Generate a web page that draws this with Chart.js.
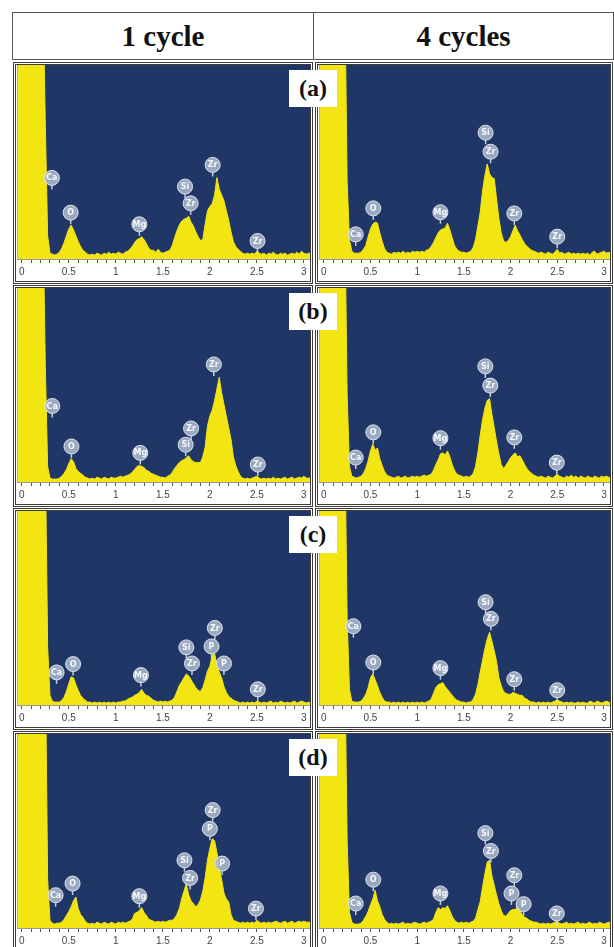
<!DOCTYPE html>
<html>
<head>
<meta charset="utf-8">
<script src="https://cdn.jsdelivr.net/npm/chart.js@4.4.1/dist/chart.umd.min.js"></script>
<style>
  html, body { margin: 0; padding: 0; background: #fff; }
  body { width: 614px; height: 947px; position: relative; overflow: hidden; }
  .head { position: absolute; top: 12px; height: 48px; box-sizing: border-box;
          border: 1px solid #555; display: flex; align-items: center; justify-content: center;
          font: bold 29px "Liberation Serif", "Times New Roman", serif; color: #111; }
  .frame { position: absolute; box-sizing: border-box; border: 3px double #3c3c3c; }
  canvas { position: absolute; }
  .tag { position: absolute; width: 48px; height: 37px; background: #fff;
         display: flex; align-items: center; justify-content: center;
         font: bold 24px "Liberation Serif", "Times New Roman", serif; color: #111; }
</style>
</head>
<body>
<div class="head" style="left:12px; width:302px;">1 cycle</div>
<div class="head" style="left:313px; width:301px;">4 cycles</div>

<script>
// energy axis (keV), one point every 0.025
const energy = Array.from({ length: 126 }, (_, i) => Math.round((-0.05 + i * 0.025) * 1000) / 1000);

// counts, 0 = baseline, 100 = top of the plot
const a1 = [
  140,140,140,140,140,140,140,140,140,140,140,140,70,12,3,2.5,2,2.5,3.5,5.5,8.5,12,
  15.5,17.5,15,12,9,6.5,4.5,3.5,2.5,2,2.5,2,3,2.5,2,3,2.5,3.5,2.5,3,
  2.5,3.5,3,2.5,3.5,4,5,6.5,8.5,10,10.5,11.5,10,8,5.5,4.5,4.5,3.5,5,3.5,
  3,3.5,4,4.5,7,11,14.5,17.5,19.5,20.5,21,22,19,17,14,11.5,9.5,10,18,25,
  27,28.5,33,42,36,33,30,25,20,14,9,6.5,5,4,3,2.5,3,2.5,3,2.5,
  4,3,2.5,3,2,3,2.5,3.5,2.5,2,3,2.5,3,2,2.5,3,2.5,3.5,2.5,4,
  3,2.5,3,3
];
const a4 = [
  140,140,140,140,140,140,140,140,140,140,140,140,40,10,4,3,3,3,3.5,5,7,11.5,
  15.5,18,19,18.5,13.5,9,5.5,3.5,3,2.5,3.5,3,3.5,3,4,3,3.5,3,4,3.5,
  4,3.5,4,3.5,4.5,5,6.5,8.5,11,13.5,15,15.5,16,18.5,15,11,7,5,4,3.5,
  3.5,3,3.5,4,6,10,17,24,35,43,49,44,42,41.5,31,21,13.5,9.5,8.5,9.5,
  11.5,14.5,17.5,14.5,12.5,10,8,6.5,5.5,4.5,4,3.5,3,3.5,3,2.5,3.5,3,2.5,3.5,
  5,3,3.5,2.5,3,3.5,2.5,3,2.5,3,2.5,3,2.5,3,2,3.5,4,2.5,3,3.5,
  4,3,3.5,3
];
const b1 = [
  140,140,140,140,140,140,140,140,140,140,140,140,60,8,2,1.5,1.5,1.5,2,3,4.5,6.5,
  9.5,12,10.5,7,5.5,4.5,3.5,2.5,2,1.5,2,1.5,2.5,2,1.5,2.5,2,1.5,2.5,2,
  2,2.5,3,2.5,3,3.5,4,5,6.5,8,8.5,8,7.5,6,5.5,4.5,4,3.5,3,2.5,
  2.5,2,3,3.5,5,7,8.5,10,11,11.5,12.5,13.5,11.5,10.5,10,10,10,13,18,29,
  34,37,42,48,54,46,40,34,28,22,13,8.5,5.5,3,2,1.5,2,1.5,2,2.5,
  3,2,1.5,2,1.5,2,1.5,2.5,1.5,2,1.5,2,2.5,1.5,2,2.5,1.5,2,2.5,2,
  3,2,2,2
];
const b4 = [
  140,140,140,140,140,140,140,140,140,140,140,140,45,8,3,2.5,2,2.5,3,4.5,7,11,
  16,19.5,16.5,17.5,12,8.5,5.5,3.5,3,2.5,2,2.5,3,2,2.5,3,2,2.5,3,2.5,
  3,2.5,3,3.5,3,3.5,4,6,9,11.5,14.5,15,14,16,13,9,6,4,3.5,3,
  2.5,3,2.5,3,4.5,8,15,24,32,38,42,43,35,28,21,14.5,9,7,8.5,10.5,
  12.5,14,15,13,13.5,11.5,9,7,5.5,4.5,3.5,3,2.5,3,2.5,2,3,2.5,2,3,
  4,3,2.5,2,3,2.5,3.5,2.5,3,2,3,2.5,2,3,2.5,2,3,2.5,2,3,
  2.5,3,2.5,2
];
const c1 = [
  140,140,140,140,140,140,140,140,140,140,140,140,130,30,5,2,1.5,1.5,1.5,2.5,4,7,
  11,14.5,14,10.5,7.5,5,3.5,2.5,1.5,1.5,1,1.5,1,1.5,1,1.5,1,1.5,1,1.5,
  1,1.5,1.5,2,2,3,3.5,4,5,5.5,6.5,8,6,5,4.5,3.5,2.5,2,1.5,2,
  1.5,2,1.5,2,2.5,4,7,10,12,14,16,15,13,11,9,7.5,7,9,13,17.5,
  20,25.5,26.5,21,17,14,9.5,6.5,4.5,3.5,2.5,2,1.5,1,1.5,1,1.5,1,1.5,1,
  2,1.5,1,1.5,1,1.5,2,1,1.5,1,2,1.5,1,1.5,1,1.5,2,1,1.5,2,
  1.5,1,1.5,1
];
const c4 = [
  140,140,140,140,140,140,140,140,140,140,140,140,45,8,2,1.5,1.5,1.5,2,3.5,5.5,9,
  14,16,13,10,6.5,4,2,1.5,1.5,1,1.5,1,1.5,1,1.5,1,1.5,1,1.5,1,
  1.5,1,1.5,1,1.5,2,3,6,9,10.5,11,11.5,9.5,8,6.5,5,3.5,2.5,2,1.5,
  1.5,1,1.5,1.5,3,5.5,10.5,17,23,29,34,37.5,33,28,22.5,14,10,7,6,5.5,
  5.5,6.5,6,5.5,5,5,3.5,3,2,1.5,1.5,1,1.5,1,1.5,1,1.5,1,1.5,2,
  2.5,2,1.5,1,1.5,1,1.5,1,1,1.5,1,1.5,1,1,2,1.5,1,2,1.5,1,
  1.5,2,1.5,1
];
const d1 = [
  140,140,140,140,140,140,140,140,140,140,140,140,140,25,4,2.5,2,2.5,2.5,3,4.5,6.5,
  8.5,11,14,16,10,7,5.5,3.5,2.5,2,2.5,2,3,2.5,2,3,2.5,2,3,2.5,
  2,3,2.5,3,2.5,3,3.5,4.5,7.5,8,9,10.5,8,6.5,4.5,4,3.5,3,3.5,3,
  3.5,3,3.5,4,4,5,7,10,15,19,23,17,14,12.5,11,12,14.5,19,26,35,
  41,46,45,39,31,25,18,15,13.5,7,4,3.5,3,2.5,3,2.5,3,2.5,3,2.5,
  4,3,2.5,3,2.5,3,2.5,3,3.5,3,2.5,3,3.5,2.5,3,3.5,2.5,3,3.5,3,
  3.5,3,3,3
];
const d4 = [
  140,140,140,140,140,140,140,140,140,140,140,140,45,8,3,2,2,2,2.5,4,6,8.5,
  12,15,19.5,14,11,7,4.5,3,2,2.5,2,2.5,2,2.5,3,2,2.5,2,2.5,3,
  2.5,2,2.5,3,2.5,3,3.5,4.5,8,10.5,9.5,10.5,10,11.5,9,6,4,3,2.5,3,
  2.5,3,2.5,3,3.5,5,9.5,13.5,21,28,34,35,27,22,17,12.5,9,6.5,6,7.5,
  9,9.5,9.5,11,9,7,5.5,5,4,3.5,3,3,2.5,2,2.5,2,2.5,2,2.5,3,
  3.5,2.5,2,2.5,3,2,2.5,2,2.5,3,2,2.5,2,2.5,3,2,2.5,2,3,2.5,
  2,2.5,3,2.5
];

// element markers: [symbol, energy, height of marker centre]
const tagsA1 = [["Ca",0.32,41.8],["O",0.52,23.9],["Mg",1.25,17.9],["Si",1.736,37.3],["Zr",1.796,28.7],["Zr",2.03,48.5],["Zr",2.507,9.3]];
const tagsA4 = [["Ca",0.342,12.7],["O",0.53,26.1],["Mg",1.249,24.1],["Si",1.733,65.1],["Zr",1.786,55.3],["Zr",2.04,23.5],["Zr",2.5,11.5]];
const tagsB1 = [["Ca",0.324,39.2],["O",0.528,18.3],["Mg",1.26,15],["Si",1.743,19.2],["Zr",1.8,27.6],["Zr",2.042,60.6],["Zr",2.51,9]];
const tagsB4 = [["Ca",0.342,12.6],["O",0.53,25.6],["Mg",1.249,22.6],["Si",1.73,59.6],["Zr",1.783,49.7],["Zr",2.04,23],["Zr",2.495,10]];
const tagsC1 = [["Ca",0.37,16.8],["O",0.546,21.1],["Mg",1.267,15.4],["Si",1.75,29.7],["Zr",1.81,21.4],["Zr",2.053,39.7],["P",2.018,30.2],["P",2.15,21.4],["Zr",2.51,8.1]];
const tagsC4 = [["Ca",0.317,40.6],["O",0.53,21.9],["Mg",1.249,19],["Si",1.733,53],["Zr",1.79,44.4],["Zr",2.04,13.3],["Zr",2.5,7.6]];
const tagsD1 = [["Ca",0.36,16.9],["O",0.54,22.9],["Mg",1.25,16.4],["Si",1.73,34.9],["Zr",1.79,25.8],["Zr",2.03,60.8],["P",2.0,51.1],["P",2.13,33.2],["Zr",2.49,10]];
const tagsD4 = [["Ca",0.342,12.6],["O",0.53,24.9],["Mg",1.249,17.8],["Si",1.73,48.9],["Zr",1.79,39.7],["Zr",2.04,27.2],["P",2.01,17.8],["P",2.14,12.3],["Zr",2.495,7.5]];

const panelLabels = ["(a)", "(b)", "(c)", "(d)"];

const NAVY = "#1f3667";
const YELLOW = "#f2e512";

const rowTops = [65, 288, 511, 734];
const cols = [{ left: 16, width: 294 }, { left: 318, width: 292 }];
const CANVAS_H = 216;
const STRIP_H = 22;

const panels = [
  [a1, tagsA1, a4, tagsA4],
  [b1, tagsB1, b4, tagsB4],
  [c1, tagsC1, c4, tagsC4],
  [d1, tagsD1, d4, tagsD4]
];

const navyBackground = {
  id: "navyBackground",
  beforeDraw(chart) {
    const { ctx, chartArea: a } = chart;
    ctx.save();
    ctx.fillStyle = "#fff";
    ctx.fillRect(0, 0, chart.width, chart.height);
    ctx.fillStyle = NAVY;
    ctx.fillRect(a.left, a.top, a.right - a.left, a.bottom - a.top);
    ctx.restore();
  }
};

const elementTags = {
  id: "elementTags",
  afterDatasetsDraw(chart, args, opts) {
    const { ctx } = chart;
    const xs = chart.scales.x, ys = chart.scales.y;
    const r = 7.5;
    ctx.save();
    (opts.tags || []).forEach(([sym, e, h]) => {
      const cx = xs.getPixelForValue(e);
      const cy = ys.getPixelForValue(h);
      ctx.strokeStyle = "rgba(215,222,232,0.9)";
      ctx.lineWidth = 1.5;
      ctx.beginPath();
      ctx.moveTo(cx, cy + r);
      ctx.lineTo(cx, cy + r + 4);
      ctx.stroke();
      ctx.beginPath();
      ctx.arc(cx, cy, r, 0, Math.PI * 2);
      ctx.fillStyle = "rgba(172,185,205,0.88)";
      ctx.fill();
      ctx.lineWidth = 1;
      ctx.strokeStyle = "rgba(228,233,240,0.95)";
      ctx.stroke();
      ctx.fillStyle = "#f5f7fa";
      ctx.font = "bold 8px 'DejaVu Sans', sans-serif";
      ctx.textAlign = "center";
      ctx.textBaseline = "middle";
      ctx.fillText(sym, cx, cy + 0.5);
    });
    ctx.restore();
  }
};

function makeChart(values, tags, left, top, width) {
  const frame = document.createElement("div");
  frame.className = "frame";
  frame.style.left = (left - 3) + "px";
  frame.style.top = (top - 3) + "px";
  frame.style.width = (width + 6) + "px";
  frame.style.height = (CANVAS_H + 6) + "px";
  document.body.appendChild(frame);

  const canvas = document.createElement("canvas");
  canvas.width = width;
  canvas.height = CANVAS_H;
  canvas.style.left = left + "px";
  canvas.style.top = top + "px";
  canvas.style.width = width + "px";
  canvas.style.height = CANVAS_H + "px";
  document.body.appendChild(canvas);

  return new Chart(canvas, {
    type: "line",
    data: {
      datasets: [{
        data: energy.map((e, i) => ({ x: e, y: values[i] })),
        fill: "origin",
        backgroundColor: YELLOW,
        borderColor: YELLOW,
        borderWidth: 1,
        pointRadius: 0,
        tension: 0
      }]
    },
    options: {
      responsive: false,
      animation: false,
      layout: { padding: 0 },
      events: [],
      plugins: {
        legend: { display: false },
        tooltip: { enabled: false },
        elementTags: { tags: tags }
      },
      scales: {
        x: {
          type: "linear",
          min: -0.045,
          max: 3.065,
          afterFit: s => { s.height = STRIP_H; },
          border: { display: true, color: "#9a9a9a", width: 1 },
          grid: { drawOnChartArea: false, tickLength: 4, color: "#555" },
          ticks: {
            stepSize: 0.1,
            autoSkip: false,
            maxRotation: 0,
            includeBounds: false,
            padding: 3,
            color: "#444",
            font: { size: 10, family: "'Liberation Sans', Arial, sans-serif" },
            callback: v => {
              const r = Math.round(v * 10);
              return r % 5 === 0 ? String(r / 10) : "";
            }
          }
        },
        y: { display: false, min: 0, max: 100 }
      }
    },
    plugins: [navyBackground, elementTags]
  });
}

panels.forEach((p, row) => {
  const top = rowTops[row];
  makeChart(p[0], p[1], cols[0].left, top, cols[0].width);
  makeChart(p[2], p[3], cols[1].left, top, cols[1].width);

  const lab = document.createElement("div");
  lab.className = "tag";
  lab.textContent = panelLabels[row];
  lab.style.left = "289px";
  lab.style.top = (top + 5) + "px";
  document.body.appendChild(lab);
});
</script>
</body>
</html>
